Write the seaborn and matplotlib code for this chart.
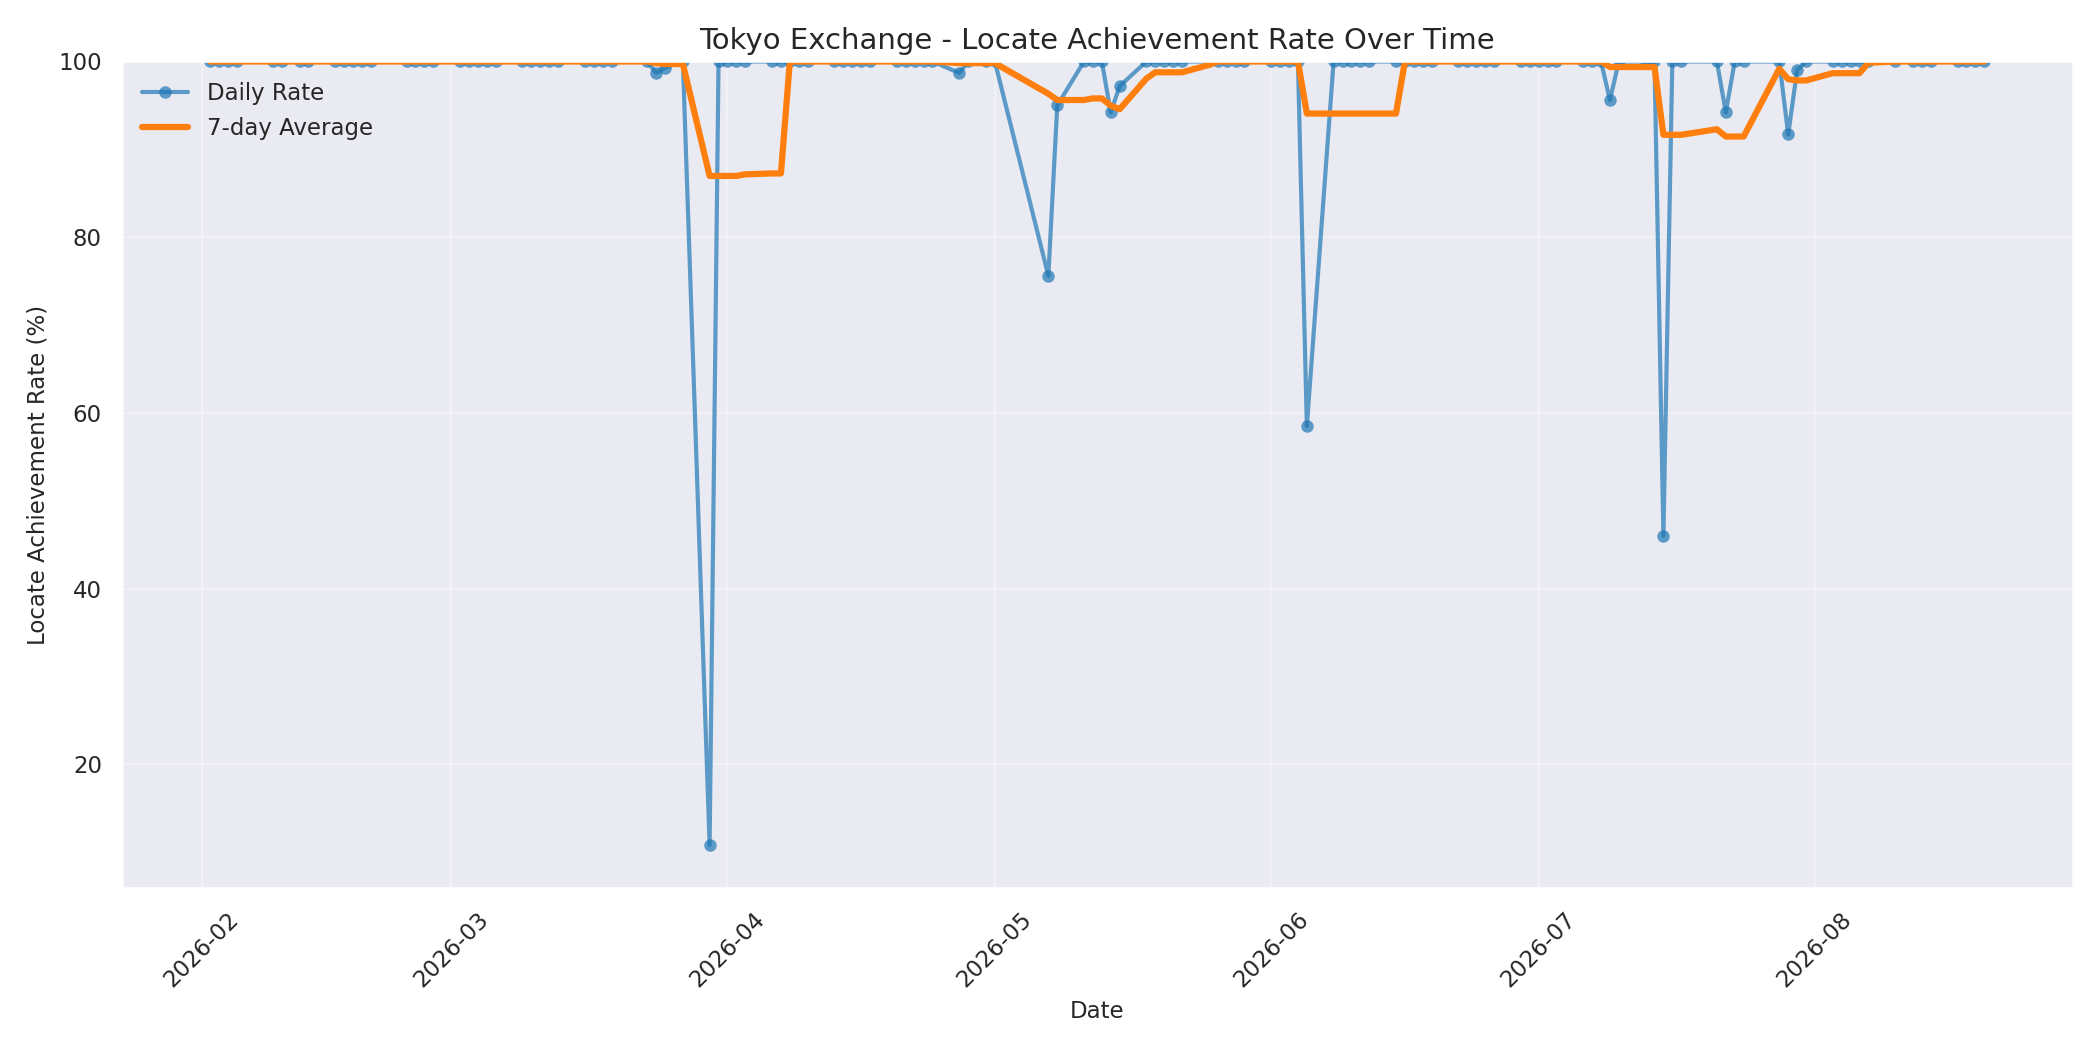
import pandas as pd
import matplotlib
matplotlib.use("Agg")
import matplotlib.pyplot as plt
import seaborn as sns

dates = (
    ["2026-02-%02d" % d for d in [2,3,4,5,9,10,12,13,16,17,18,19,20,24,25,26,27]] +
    ["2026-03-%02d" % d for d in [2,3,4,5,6,9,10,11,12,13,16,17,18,19,23,24,25,27,30,31]] +
    ["2026-04-%02d" % d for d in [1,2,3,6,7,8,9,10,13,14,15,16,17,20,21,22,23,24,27,28,30]] +
    ["2026-05-%02d" % d for d in [1,7,8,11,12,13,14,15,18,19,20,21,22,25,26,27,28,29]] +
    ["2026-06-%02d" % d for d in [1,2,3,4,5,8,9,10,11,12,15,16,17,18,19,22,23,24,25,26,29,30]] +
    ["2026-07-%02d" % d for d in [1,2,3,6,7,8,9,10,13,14,15,16,17,21,22,23,24,28,29,30,31]] +
    ["2026-08-%02d" % d for d in [3,4,5,6,7,10,12,13,14,17,18,19,20]]
)

feb_vals = [100]*17
mar_vals = [100]*15 + [98.7, 99.3, 100, 10.8, 100]
apr_vals = [100]*18 + [98.7, 100, 100]
may_vals = [100, 75.6, 95.0, 100, 100, 100, 94.2, 97.2, 100, 100, 100, 100, 100, 100, 100, 100, 100, 100]
jun_vals = [100, 100, 100, 100, 58.5] + [100]*17
jul_vals = [100, 100, 100, 100, 100, 100, 95.6, 100, 100, 100, 46.0, 100, 100, 100, 94.2, 100, 100, 100, 91.7, 99.0, 100]
aug_vals = [100]*13

rates = feb_vals + mar_vals + apr_vals + may_vals + jun_vals + jul_vals + aug_vals

df = pd.DataFrame({"Date": pd.to_datetime(dates), "Rate": rates})
df["Avg"] = df["Rate"].rolling(7, min_periods=1).mean()

sns.set_theme(style="darkgrid", rc={"grid.alpha": 0.3})
fig, ax = plt.subplots(figsize=(14, 7), dpi=150)
sns.lineplot(data=df, x="Date", y="Rate", ax=ax, marker="o", markersize=6,
             markeredgewidth=0, linewidth=2, alpha=0.7, color="#1f77b4", label="Daily Rate")
sns.lineplot(data=df, x="Date", y="Avg", ax=ax, linewidth=3, color="#ff7f0e", label="7-day Average")
ax.set_ylim(5.9, 100)
ax.set_title("Tokyo Exchange - Locate Achievement Rate Over Time", fontsize=14)
ax.set_xlabel("Date", fontsize=11)
ax.set_ylabel("Locate Achievement Rate (%)", fontsize=11)
ax.tick_params(labelsize=11)
ax.legend(loc="upper left", frameon=False, fontsize=11)
plt.setp(ax.get_xticklabels(), rotation=45)
plt.tight_layout()
fig.savefig("out.png", dpi=150)
